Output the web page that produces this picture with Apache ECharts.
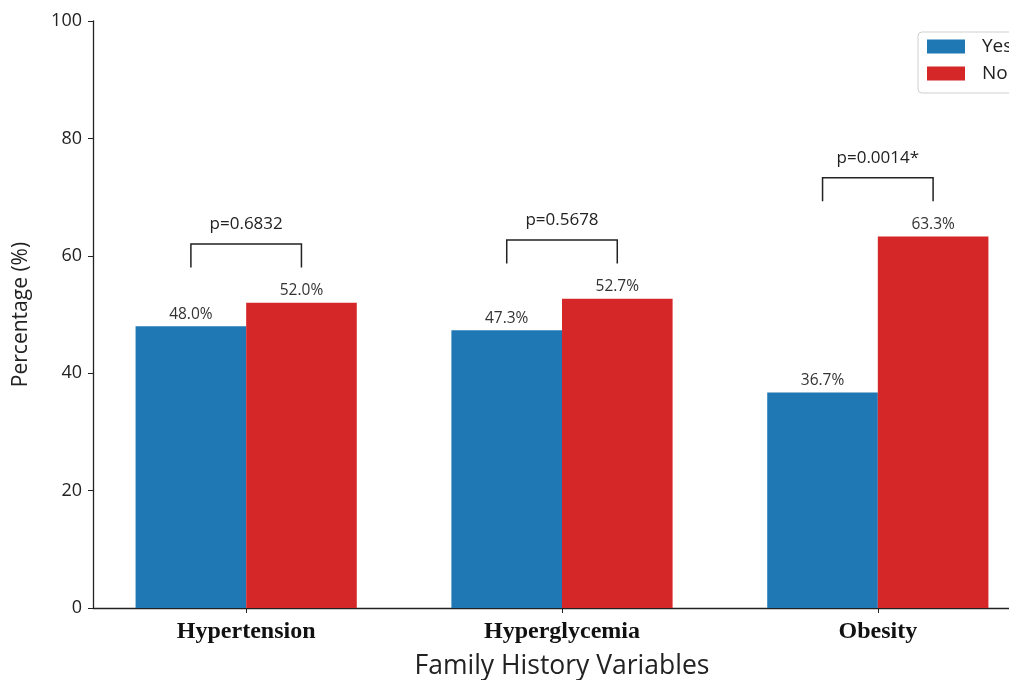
<!DOCTYPE html>
<html><head><meta charset="utf-8">
<script src="https://cdn.jsdelivr.net/npm/echarts@6/dist/echarts.min.js"></script>
<style>html,body{margin:0;padding:0;background:#fff;overflow:hidden;width:1009px;height:680px}#c{width:1031px;height:680px}</style>
</head><body><div id="c"></div>
<script>
var categories = ['Hypertension', 'Hyperglycemia', 'Obesity'];
var yesValues = [48.0, 47.3, 36.7];
var noValues = [52.0, 52.7, 63.3];
var pLabels = ['p=0.6832', 'p=0.5678', 'p=0.0014*'];
var yTicks = [0, 20, 40, 60, 80, 100];

var FONT = '"Open Sans", Lato, sans-serif';
var HALF = 0.175;

var chart = echarts.init(document.getElementById('c'), null, {renderer: 'canvas'});
var idx = categories.map(function (c, i) { return i; });

chart.setOption({
  animation: false,
  backgroundColor: '#fff',
  grid: {left: 93, top: 21, right: 0, bottom: 72, containLabel: false, outerBoundsMode: 'none'},
  legend: {
    orient: 'vertical', left: 918, top: 32,
    data: ['Yes', 'No'],
    itemWidth: 38, itemHeight: 14, itemGap: 8,
    padding: [5, 40, 10, 9],
    borderColor: '#cfcfcf', borderWidth: 1, borderRadius: 4,
    textStyle: {fontFamily: FONT, fontSize: 19, color: '#222', padding: [0, 0, 0, 12]},
    icon: 'rect'
  },
  xAxis: {
    type: 'value', min: -0.485, max: 2.485,
    splitLine: {show: false},
    axisLine: {show: true, onZero: false, lineStyle: {color: '#222', width: 1.3}},
    axisTick: {show: true, customValues: idx, length: 5, lineStyle: {color: '#222'}},
    axisLabel: {
      customValues: idx, margin: 12,
      formatter: function (v) { return categories[Math.round(v)]; },
      fontFamily: '"Liberation Serif", "Times New Roman", serif', fontWeight: 'bold', fontSize: 24, color: '#111'
    },
    name: 'Family History Variables', nameLocation: 'middle', nameGap: 45,
    nameTextStyle: {fontFamily: FONT, fontSize: 26.5, color: '#222'}
  },
  yAxis: {
    type: 'value', min: 0, max: 100, interval: 20,
    splitLine: {show: false},
    axisLine: {show: true, onZero: false, lineStyle: {color: '#222', width: 1.3}},
    axisTick: {show: true, length: 5, lineStyle: {color: '#222'}},
    axisLabel: {fontFamily: FONT, fontSize: 18, color: '#222', margin: 11},
    name: 'Percentage (%)', nameLocation: 'middle', nameGap: 61,
    nameTextStyle: {fontFamily: FONT, fontSize: 21, color: '#222'}
  },
  series: [
    {
      name: 'Yes', type: 'bar', barWidth: 110.6, barGap: '0%',
      itemStyle: {color: '#1f77b4'},
      data: yesValues.map(function (v, i) { return [i, v]; }),
      label: {show: true, position: 'top', distance: 4, fontFamily: FONT, fontSize: 15.5, color: '#333',
        formatter: function (p) { return p.value[1].toFixed(1) + '%'; }}
    },
    {
      name: 'No', type: 'bar', barWidth: 110.6, barGap: '0%',
      itemStyle: {color: '#d62728'},
      data: noValues.map(function (v, i) { return [i, v]; }),
      label: {show: true, position: 'top', distance: 4, fontFamily: FONT, fontSize: 15.5, color: '#333',
        formatter: function (p) { return p.value[1].toFixed(1) + '%'; }}
    },
    {
      type: 'custom', silent: true, z: 5,
      data: idx.map(function (i) { return [i, Math.max(yesValues[i], noValues[i])]; }),
      renderItem: function (params, api) {
        var i = api.value(0), m = api.value(1);
        var a = api.coord([i - HALF, m + 6]);
        var b = api.coord([i - HALF, m + 10]);
        var c = api.coord([i + HALF, m + 10]);
        var d = api.coord([i + HALF, m + 6]);
        return {
          type: 'group',
          children: [
            {type: 'polyline', shape: {points: [a, b, c, d]},
             style: {stroke: '#222', lineWidth: 1.5, fill: null}},
            {type: 'text', x: (b[0] + c[0]) / 2, y: b[1] - 11,
             style: {text: pLabels[params.dataIndex], fontFamily: FONT, fontSize: 17, fill: '#222',
                     align: 'center', verticalAlign: 'bottom'}}
          ]
        };
      }
    }
  ]
});
</script></body></html>
